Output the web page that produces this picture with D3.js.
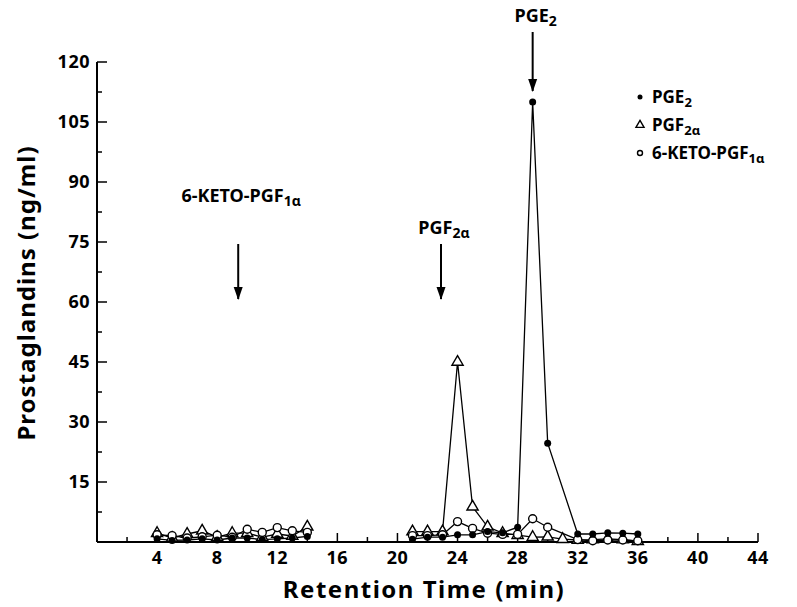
<!DOCTYPE html>
<html>
<head>
<meta charset="utf-8">
<script src="https://cdn.jsdelivr.net/npm/d3@7"></script>
<style>
  body { margin: 0; background: #fff; }
  text { font-family: "Noto Sans", sans-serif; font-weight: 700; fill: #000; }
</style>
</head>
<body>
<div id="chart"></div>
<script>
// retention times (min) of the collected fractions
var timesEarly = [4, 5, 6, 7, 8, 9, 10, 11, 12, 13, 14];
var timesLate = [21, 22, 23, 24, 25, 26, 27, 28, 29, 30, 31, 32, 33, 34, 35, 36];

// ng/ml, null = no point plotted
var pge2Early = [0.8, 0.4, 0.5, 0.8, 0.5, 1.0, 1.0, 0.6, 0.8, 1.0, 1.4];
var pge2Late = [0.7, 1.2, 1.2, 1.8, 1.8, 2.6, 2.3, 3.7, 110, 24.7, null, 2.0, 2.0, 2.3, 2.2, 2.0];
var pgf2aEarly = [2.2, 1.0, 2.0, 2.8, 1.2, 2.2, 2.2, 1.2, 2.0, 1.5, 3.8];
var pgf2aLate = [2.6, 2.6, 2.6, 45, 8.8, 3.8, 2.2, 1.7, 1.2, 1.3, 0.7, 0.5, 0.6, 0.8, 0.6, 0.2];
var ketoEarly = [1.8, 1.6, 1.0, 1.3, 1.7, 1.2, 3.2, 2.4, 3.6, 2.8, 2.4];
var ketoLate = [1.6, 1.6, 1.8, 5.1, 3.4, 2.2, 1.9, 1.9, 5.8, 3.7, null, 0.6, 0.3, 0.5, 0.5, 0.3];

var xTicks = [4, 8, 12, 16, 20, 24, 28, 32, 36, 40, 44];
var yTicks = [15, 30, 45, 60, 75, 90, 105, 120];

// elution markers of the standards: [name, subscript, time, label level, arrow top, arrow bottom]
var standards = [
  ["6-KETO-PGF", "1\u03b1", 9.4, 85, 74.5, 60.5],
  ["PGF", "2\u03b1", 22.9, 77, 74.5, 60.5],
  ["PGE", "2", 29, 130, 127.5, 112.5]
];

var width = 797, height = 607;

var svg = d3.select("#chart").append("svg")
  .attr("width", width)
  .attr("height", height);

var x = d3.scaleLinear().domain([0, 44]).range([97, 758]);
var y = d3.scaleLinear().domain([0, 120]).range([542, 62]);

// axes: ticks point into the plot
var xAxis = svg.append("g").attr("transform", `translate(0, ${y(0)})`);
xAxis.append("line")
  .attr("x1", x(0)).attr("x2", x(44))
  .attr("stroke", "#000").attr("stroke-width", 2);
xAxis.selectAll(".minor")
  .data(d3.range(2, 44, 4))
  .enter().append("line")
  .attr("x1", d => x(d)).attr("x2", d => x(d))
  .attr("y1", 0).attr("y2", -5)
  .attr("stroke", "#000").attr("stroke-width", 1.5);
xAxis.selectAll(".major")
  .data(xTicks)
  .enter().append("line")
  .attr("x1", d => x(d)).attr("x2", d => x(d))
  .attr("y1", 0).attr("y2", -9)
  .attr("stroke", "#000").attr("stroke-width", 1.5);
xAxis.selectAll(".lbl")
  .data(xTicks)
  .enter().append("text")
  .attr("x", d => x(d))
  .attr("y", 22)
  .attr("text-anchor", "middle")
  .style("font-size", "18px")
  .style("letter-spacing", "0.5px")
  .text(d => d);

var yAxis = svg.append("g").attr("transform", `translate(${x(0)}, 0)`);
yAxis.append("line")
  .attr("y1", y(0)).attr("y2", y(120))
  .attr("stroke", "#000").attr("stroke-width", 2);
yAxis.selectAll(".minor")
  .data(d3.range(7.5, 120, 15))
  .enter().append("line")
  .attr("y1", d => y(d)).attr("y2", d => y(d))
  .attr("x1", 0).attr("x2", 5)
  .attr("stroke", "#000").attr("stroke-width", 1.5);
yAxis.selectAll(".major")
  .data(yTicks)
  .enter().append("line")
  .attr("y1", d => y(d)).attr("y2", d => y(d))
  .attr("x1", 0).attr("x2", 10)
  .attr("stroke", "#000").attr("stroke-width", 1.5);
yAxis.selectAll(".lbl")
  .data(yTicks)
  .enter().append("text")
  .attr("x", -7)
  .attr("y", d => y(d))
  .attr("dy", "0.35em")
  .attr("text-anchor", "end")
  .style("font-size", "18px")
  .style("letter-spacing", "0.5px")
  .text(d => d);

// axis titles
svg.append("text")
  .attr("x", 424).attr("y", 598)
  .attr("text-anchor", "middle")
  .style("font-size", "24px")
  .style("letter-spacing", "1.5px")
  .text("Retention Time (min)");

svg.append("text")
  .attr("transform", "translate(35, 293) rotate(-90)")
  .attr("text-anchor", "middle")
  .style("font-size", "24px")
  .style("letter-spacing", "1px")
  .text("Prostaglandins (ng/ml)");

// series
function toPoints(times, vals) {
  return times.map((t, i) => [t, vals[i]]).filter(p => p[1] !== null);
}
var series = [
  {name: "PGE2", shape: "dot", segs: [toPoints(timesEarly, pge2Early), toPoints(timesLate, pge2Late)]},
  {name: "PGF2a", shape: "tri", segs: [toPoints(timesEarly, pgf2aEarly), toPoints(timesLate, pgf2aLate)]},
  {name: "KETO", shape: "ring", segs: [toPoints(timesEarly, ketoEarly), toPoints(timesLate, ketoLate)]}
];

var line = d3.line().x(d => x(d[0])).y(d => y(d[1]));
var plot = svg.append("g");

series.forEach(function(s) {
  s.segs.forEach(function(seg) {
    plot.append("path")
      .datum(seg)
      .attr("d", line)
      .attr("fill", "none")
      .attr("stroke", "#000")
      .attr("stroke-width", 1.3);
  });
});

function drawMarker(g, shape, cx, cy, r) {
  if (shape === "dot") {
    g.append("circle").attr("cx", cx).attr("cy", cy).attr("r", r)
      .attr("fill", "#000");
  } else if (shape === "ring") {
    g.append("circle").attr("cx", cx).attr("cy", cy).attr("r", r)
      .attr("fill", "#fff").attr("stroke", "#000").attr("stroke-width", 1.4);
  } else {
    var sym = d3.symbol().type(d3.symbolTriangle).size(r * r * 4.2);
    g.append("path").attr("d", sym())
      .attr("transform", `translate(${cx}, ${cy})`)
      .attr("fill", "#fff").attr("stroke", "#000").attr("stroke-width", 1.4);
  }
}

// open markers first, filled dots on top
["tri", "ring", "dot"].forEach(function(shape) {
  series.filter(s => s.shape === shape).forEach(function(s) {
    s.segs.forEach(function(seg) {
      seg.forEach(function(p) {
        drawMarker(plot, shape, x(p[0]), y(p[1]), shape === "dot" ? 3.5 : (shape === "tri" ? 3.6 : 4));
      });
    });
  });
});

// standard arrows
standards.forEach(function(d) {
  var ax = x(d[2]);
  svg.append("line")
    .attr("x1", ax).attr("x2", ax)
    .attr("y1", y(d[4])).attr("y2", y(d[5]) - 1)
    .attr("stroke", "#000").attr("stroke-width", 2);
  svg.append("path")
    .attr("d", `M${ax - 4.5},${y(d[5]) - 13} L${ax},${y(d[5])} L${ax + 4.5},${y(d[5]) - 13} Z`)
    .attr("fill", "#000");
  var t = svg.append("text")
    .attr("x", ax + 3)
    .attr("y", y(d[3]))
    .attr("text-anchor", "middle")
    .style("font-size", "18px");
  t.append("tspan").text(d[0]);
  t.append("tspan").attr("dy", 4).style("font-size", "14px").text(d[1]);
});

// legend
var legend = [
  ["dot", "PGE", "2"],
  ["tri", "PGF", "2\u03b1"],
  ["ring", "6-KETO-PGF", "1\u03b1"]
];
legend.forEach(function(d, i) {
  var ly = 97 + i * 28;
  drawMarker(svg, d[0], 640, ly, d[0] === "tri" ? 2.6 : 2.5);
  var t = svg.append("text")
    .attr("x", 652).attr("y", ly + 6)
    .style("font-size", "17px");
  t.append("tspan").text(d[1]);
  t.append("tspan").attr("dy", 4).style("font-size", "13px").text(d[2]);
});
</script>
</body>
</html>
